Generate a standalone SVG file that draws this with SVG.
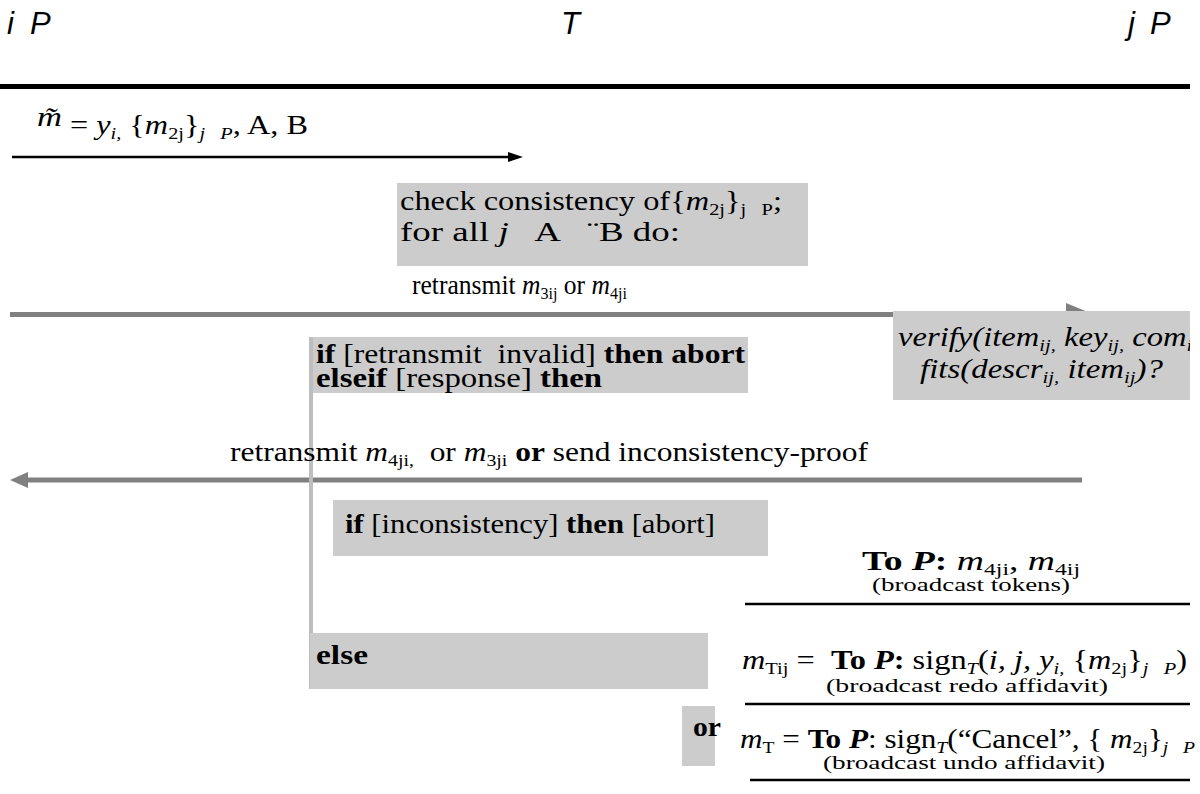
<svg xmlns="http://www.w3.org/2000/svg" width="1200" height="794" viewBox="0 0 1200 794">
<style>
.t{font-family:"Liberation Serif","Times New Roman",serif;font-size:27px;fill:#000;white-space:pre}
.s{font-size:17px}
.sm{font-size:18px}
.i{font-style:italic}
.b{font-weight:bold}
.h{font-family:"Liberation Sans",Arial,sans-serif;font-style:italic;font-size:31px;fill:#000}
.box{fill:#cccccc}
.gl{stroke:#808080;stroke-width:5;fill:none}
.bl{stroke:#000;stroke-width:2.5;fill:none}
</style>
<defs>
<clipPath id="vclip"><rect x="893" y="311" width="297" height="89"/></clipPath>
</defs>
<rect width="1200" height="794" fill="#fff"/>
<g id="header">
<text class="h" x="7" y="34">i</text>
<text class="h" x="30" y="34">P</text>
<text class="h" x="561" y="34">T</text>
<text class="h" x="1128" y="34">j</text>
<text class="h" x="1150" y="34">P</text>
<rect x="0" y="84" width="1190" height="5" fill="#000"/>
</g>
<g id="connectors">
<line class="bl" x1="12" y1="157" x2="512" y2="157"/>
<polygon points="508,152 523,157 508,162" fill="#000"/>
<line class="gl" x1="10" y1="314.5" x2="1070" y2="314.5"/>
<polygon points="1066,303 1094,314.5 1066,326" fill="#808080"/>
<line class="gl" x1="26" y1="480" x2="1082" y2="480"/>
<polygon points="10,480 28,472 28,488" fill="#808080"/>
<rect x="309" y="337" width="4" height="352" fill="#bdbdbd"/>
<line class="bl" x1="745" y1="604" x2="1190" y2="604"/>
<line class="bl" x1="745" y1="704" x2="1190" y2="704"/>
<line class="bl" x1="750" y1="780" x2="1190" y2="780"/>
</g>
<g id="msg1">
<text class="t i" x="37" y="126" font-size="30" textLength="25" lengthAdjust="spacingAndGlyphs">m̃</text>
<text class="t" x="70" y="134" font-size="25" textLength="238" lengthAdjust="spacingAndGlyphs">= <tspan class="i">y</tspan><tspan class="s i" dy="5">i,</tspan><tspan dy="-5"> {</tspan><tspan class="i">m</tspan><tspan class="s" dy="5">2j</tspan><tspan dy="-5">}</tspan><tspan class="s i" dy="5">j   P</tspan><tspan dy="-5">, A, B</tspan></text>
</g>
<g id="check">
<rect class="box" x="397" y="183" width="411" height="83"/>
<text class="t" x="400" y="210" textLength="382" lengthAdjust="spacingAndGlyphs">check consistency of{<tspan class="i">m</tspan><tspan class="s" dy="5">2j</tspan><tspan dy="-5">}</tspan><tspan class="s" dy="5">j   P</tspan><tspan dy="-5">;</tspan></text>
<text class="t" x="400" y="241" textLength="280" lengthAdjust="spacingAndGlyphs">for all <tspan class="i">j</tspan>   A   ¨B do:</text>
</g>
<g id="msg2">
<text class="t" x="412" y="294" font-size="25" textLength="215" lengthAdjust="spacingAndGlyphs">retransmit <tspan class="i">m</tspan><tspan class="s" dy="5">3ij</tspan><tspan dy="-5"> or </tspan><tspan class="i">m</tspan><tspan class="s" dy="5">4ji</tspan></text>
</g>
<g id="verify">
<rect class="box" x="893" y="311" width="297" height="89"/>
<g clip-path="url(#vclip)">
<text class="t i" x="898" y="346" textLength="300" lengthAdjust="spacingAndGlyphs">verify(item<tspan class="s" dy="5">ij,</tspan><tspan dy="-5"> key</tspan><tspan class="s" dy="5">ij,</tspan><tspan dy="-5"> com</tspan><tspan class="s" dy="5">ij</tspan></text>
<text class="t i" x="920" y="378" textLength="243" lengthAdjust="spacingAndGlyphs">fits(descr<tspan class="s" dy="5">ij,</tspan><tspan dy="-5"> item</tspan><tspan class="s" dy="5">ij</tspan><tspan dy="-5">)?</tspan></text>
</g>
</g>
<g id="ifbox">
<rect class="box" x="313" y="337" width="435" height="56"/>
<text class="t" x="316" y="363" textLength="429" lengthAdjust="spacingAndGlyphs"><tspan class="b">if</tspan> [retransmit  invalid] <tspan class="b">then abort</tspan></text>
<text class="t" x="316" y="387" textLength="286" lengthAdjust="spacingAndGlyphs"><tspan class="b">elseif</tspan> [response] <tspan class="b">then</tspan></text>
</g>
<g id="msg3">
<text class="t" x="230" y="461" textLength="638" lengthAdjust="spacingAndGlyphs">retransmit <tspan class="i">m</tspan><tspan class="s" dy="5">4ji,</tspan><tspan dy="-5">  or </tspan><tspan class="i">m</tspan><tspan class="s" dy="5">3ji</tspan><tspan dy="-5" class="b"> or</tspan><tspan> send inconsistency-proof</tspan></text>
</g>
<g id="incons">
<rect class="box" x="333" y="500" width="435" height="56"/>
<text class="t" x="345" y="533" textLength="370" lengthAdjust="spacingAndGlyphs"><tspan class="b">if</tspan> [inconsistency] <tspan class="b">then</tspan> [abort]</text>
</g>
<g id="tokens">
<text class="t" x="862" y="570" font-size="25" textLength="218" lengthAdjust="spacingAndGlyphs"><tspan class="b">To <tspan class="i">P</tspan>:</tspan> <tspan class="i">m</tspan><tspan class="s" dy="5">4ji</tspan><tspan dy="-5">, </tspan><tspan class="i">m</tspan><tspan class="s" dy="5">4ij</tspan></text>
<text class="t sm" x="872" y="591" textLength="198" lengthAdjust="spacingAndGlyphs">(broadcast tokens)</text>
</g>
<g id="else">
<rect class="box" x="310" y="633" width="398" height="56"/>
<text class="t b" x="316" y="664" textLength="52" lengthAdjust="spacingAndGlyphs">else</text>
</g>
<g id="redo">
<text class="t" x="742" y="669" font-size="25" textLength="445" lengthAdjust="spacingAndGlyphs"><tspan class="i">m</tspan><tspan class="s" dy="5">Tij</tspan><tspan dy="-5"> =  </tspan><tspan class="b">To <tspan class="i">P</tspan>:</tspan> sign<tspan class="s i" dy="5">T</tspan><tspan dy="-5">(</tspan><tspan class="i">i, j, y</tspan><tspan class="s i" dy="5">i,</tspan><tspan dy="-5"> {</tspan><tspan class="i">m</tspan><tspan class="s" dy="5">2j</tspan><tspan dy="-5">}</tspan><tspan class="s i" dy="5">j   P</tspan><tspan dy="-5">)</tspan></text>
<text class="t sm" x="826" y="692" textLength="282" lengthAdjust="spacingAndGlyphs">(broadcast redo affidavit)</text>
</g>
<g id="undo">
<rect class="box" x="682" y="706" width="33" height="60"/>
<text class="t b" x="693" y="736" textLength="28" lengthAdjust="spacingAndGlyphs">or</text>
<text class="t" x="740" y="748" font-size="25" textLength="455" lengthAdjust="spacingAndGlyphs"><tspan class="i">m</tspan><tspan class="s" dy="5">T</tspan><tspan dy="-5"> = </tspan><tspan class="b">To <tspan class="i">P</tspan></tspan>: sign<tspan class="s i" dy="5">T</tspan><tspan dy="-5">(“Cancel”, { </tspan><tspan class="i">m</tspan><tspan class="s" dy="5">2j</tspan><tspan dy="-5">}</tspan><tspan class="s i" dy="5">j   P</tspan></text>
<text class="t sm" x="823" y="769" textLength="282" lengthAdjust="spacingAndGlyphs">(broadcast undo affidavit)</text>
</g>
</svg>
